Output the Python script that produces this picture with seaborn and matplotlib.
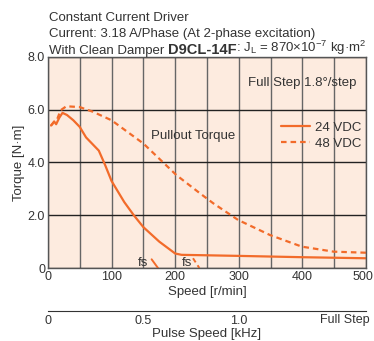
import matplotlib
matplotlib.use("Agg")
import matplotlib.pyplot as plt
import matplotlib.transforms as mtransforms
import seaborn as sns
import pandas as pd
import numpy as np

# data
speed_24 = [5, 10, 13, 18, 23, 30, 40, 50, 60, 70, 80, 90, 100, 120, 135, 150, 175, 200, 210, 300, 400, 500]
torque_24 = [5.4, 5.55, 5.45, 5.7, 5.88, 5.8, 5.6, 5.35, 4.95, 4.7, 4.45, 3.9, 3.3, 2.5, 2.0, 1.55, 1.0, 0.55, 0.5, 0.46, 0.41, 0.37]
speed_48 = [5, 10, 14, 20, 29, 50, 71, 100, 150, 202, 239, 260, 299, 349, 399, 449, 500]
torque_48 = [5.4, 5.55, 5.6, 5.98, 6.13, 6.1, 5.92, 5.6, 4.72, 3.52, 2.83, 2.45, 1.82, 1.25, 0.81, 0.62, 0.58]
fs24_speed = [163, 173]
fs24_torque = [0.33, 0.0]
fs48_speed = [228, 238]
fs48_torque = [0.37, 0.0]

xticks = [0, 100, 200, 300, 400, 500]
yticks = [0, 2, 4, 6, 8]
ytick_labels = ["0", "2.0", "4.0", "6.0", "8.0"]
khz_ticks = [0, 0.5, 1.0, 1.5]
khz_labels = ["0", "0.5", "1.0", ""]

orange = "#F26B2A"
txt = "#333333"

sns.set_style("white")
plt.rcParams['font.family'] = ['Liberation Sans', 'DejaVu Sans']
plt.rcParams['text.color'] = txt
plt.rcParams['axes.labelcolor'] = txt
plt.rcParams['xtick.color'] = txt
plt.rcParams['ytick.color'] = txt

df = pd.concat([
    pd.DataFrame({"speed": speed_24, "torque": torque_24, "v": "24 VDC"}),
    pd.DataFrame({"speed": speed_48, "torque": torque_48, "v": "48 VDC"}),
])

fig = plt.figure(figsize=(3.74, 3.41), dpi=100)
ax = fig.add_axes([0.128, 0.214, 0.851, 0.619])
ax.set_facecolor("#FDEBDF")

sns.lineplot(data=df, x="speed", y="torque", hue="v", style="v", sort=False,
             palette={"24 VDC": orange, "48 VDC": orange},
             dashes={"24 VDC": "", "48 VDC": (2.5, 1.8)}, lw=1.6, ax=ax)
sns.lineplot(x=fs24_speed, y=fs24_torque, color=orange, lw=1.4, ax=ax, legend=False)
sns.lineplot(x=fs48_speed, y=fs48_torque, color=orange, lw=1.4, ax=ax,
             linestyle=(0, (2.5, 1.8)), legend=False)

ax.set_xlim(0, 500)
ax.set_ylim(0, 8)
ax.set_xticks(xticks)
ax.set_xticks(np.arange(50, 500, 100), minor=True)
ax.set_yticks(yticks)
ax.set_yticklabels(ytick_labels)
ax.tick_params(length=0, labelsize=9, pad=2)
ax.tick_params(which="minor", length=0)
ax.grid(True, which="major", axis="y", color="#222222", lw=1.0)
ax.grid(True, which="both", axis="x", color="#666666", lw=1.0)
ax.set_axisbelow(True)
for s in ax.spines.values():
    s.set_color("#555555")
    s.set_linewidth(1.0)

# nudge the "500" label a little left so it stays inside the figure
last = ax.get_xticklabels()[-1]
last.set_transform(last.get_transform() + mtransforms.ScaledTranslation(-3 / 100, 0, fig.dpi_scale_trans))

ax.set_xlabel("Speed [r/min]", fontsize=9.5, labelpad=2)
ax.set_ylabel("Torque [N·m]", fontsize=9.5, labelpad=2)

leg = ax.legend(loc="upper left", bbox_to_anchor=(0.715, 0.72), frameon=False,
                fontsize=9.5, handlelength=2.2, handletextpad=0.4, labelspacing=0.3,
                borderaxespad=0)
for t in leg.get_texts():
    t.set_color(txt)

ax.text(228, 5.0, "Pullout Torque", fontsize=9.5, ha="center", va="center")
ax.text(400, 7.0, "Full Step 1.8°/step", fontsize=9.5, ha="center", va="center")
ax.text(150, 0.2, "fs", fontsize=9.5, ha="center", va="center")
ax.text(218, 0.2, "fs", fontsize=9.5, ha="center", va="center")

# header text
fig.text(0.131, 0.948, "Constant Current Driver", fontsize=9.5, va="center")
fig.text(0.131, 0.899, "Current: 3.18 A/Phase (At 2-phase excitation)", fontsize=9.5, va="center")
t1 = fig.text(0.131, 0.85, "With Clean Damper ", fontsize=9.5, va="center")
t2 = ax.annotate("D9CL-14F", xy=(1, 0), xycoords=t1, va="bottom", ha="left",
                 fontsize=10.5, fontweight="bold", annotation_clip=False)
ax.annotate(r": J$_\mathregular{L}$ = 870×10$^\mathregular{-7}$ kg·m$^\mathregular{2}$",
            xy=(1, 0), xycoords=t2, va="bottom", ha="left", fontsize=9.5, annotation_clip=False)

# pulse speed axis
ax2 = fig.add_axes([0.128, 0.089, 0.851, 0.001])
ax2.set_xlim(0, 500 / 300)
ax2.set_yticks([])
for side in ["top", "left", "right"]:
    ax2.spines[side].set_visible(False)
ax2.spines["bottom"].set_color("#333333")
ax2.set_xticks(khz_ticks)
ax2.set_xticklabels(khz_labels)
ax2.tick_params(axis="x", direction="in", length=3, labelsize=9, pad=3)
ax2.text(1.01, -10, "Full Step", transform=ax2.transAxes, fontsize=9, ha="right", va="top")
ax2.set_xlabel("Pulse Speed [kHz]", fontsize=9.5, labelpad=1)

fig.savefig("out.png", dpi=100)
